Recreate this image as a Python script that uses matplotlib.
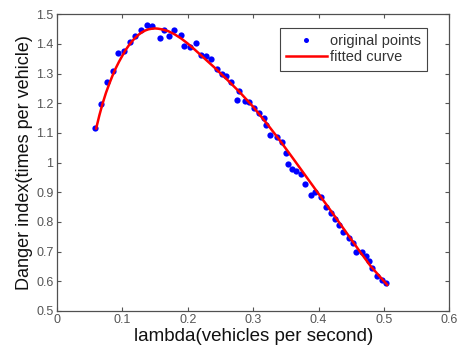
import matplotlib
matplotlib.use("Agg")
import matplotlib.pyplot as plt
from matplotlib.ticker import FuncFormatter

plt.rcParams['font.family'] = ['Liberation Sans', 'DejaVu Sans']

# original measured points
lam = [0.058, 0.067, 0.076, 0.085, 0.094, 0.103, 0.112, 0.120, 0.129, 0.137,
       0.146, 0.157, 0.164, 0.171, 0.179, 0.189, 0.195, 0.204, 0.212, 0.220,
       0.228, 0.235, 0.244, 0.252, 0.259, 0.266, 0.275, 0.279, 0.287, 0.294,
       0.302, 0.309, 0.316, 0.320, 0.326, 0.337, 0.344, 0.350, 0.354, 0.360,
       0.366, 0.373, 0.380, 0.388, 0.395, 0.403, 0.411, 0.419, 0.425, 0.432,
       0.438, 0.446, 0.452, 0.458, 0.466, 0.472, 0.477, 0.482, 0.490, 0.497,
       0.503]
danger = [1.118, 1.196, 1.270, 1.309, 1.369, 1.376, 1.407, 1.427, 1.446, 1.464,
          1.459, 1.420, 1.446, 1.425, 1.446, 1.429, 1.392, 1.390, 1.403, 1.364,
          1.360, 1.348, 1.314, 1.300, 1.291, 1.272, 1.210, 1.242, 1.207, 1.205,
          1.185, 1.168, 1.150, 1.126, 1.093, 1.087, 1.070, 1.031, 0.995, 0.977,
          0.970, 0.960, 0.927, 0.891, 0.902, 0.883, 0.852, 0.829, 0.809, 0.790,
          0.767, 0.745, 0.730, 0.700, 0.700, 0.685, 0.669, 0.644, 0.618, 0.604,
          0.593]

# fitted curve
fit_x = [0.060, 0.065, 0.070, 0.075, 0.080, 0.085, 0.090, 0.095, 0.100, 0.105,
         0.110, 0.115, 0.120, 0.125, 0.130, 0.135, 0.140, 0.145, 0.150, 0.155,
         0.160, 0.170, 0.180, 0.190, 0.200, 0.210, 0.220, 0.240, 0.260, 0.280,
         0.300, 0.320, 0.340, 0.360, 0.380, 0.400, 0.420, 0.440, 0.460, 0.480,
         0.505]
fit_y = [1.115, 1.160, 1.200, 1.235, 1.265, 1.293, 1.318, 1.340, 1.360, 1.379,
         1.395, 1.409, 1.421, 1.431, 1.439, 1.445, 1.449, 1.451, 1.452, 1.451,
         1.449, 1.443, 1.432, 1.418, 1.401, 1.382, 1.362, 1.322, 1.280, 1.236,
         1.188, 1.134, 1.077, 1.017, 0.956, 0.895, 0.834, 0.772, 0.710, 0.650,
         0.588]

fig = plt.figure(figsize=(4.59, 3.54), dpi=100)
ax = fig.add_axes([0.124, 0.1215, 0.855, 0.8385])

ax.plot(lam, danger, 'o', color='#0000ff', markersize=4.5, markeredgewidth=0,
        label='original points')
ax.plot(fit_x, fit_y, '-', color='#ff0000', linewidth=1.8, label='fitted curve')

ax.set_xlim(0, 0.6)
ax.set_ylim(0.5, 1.5)
ax.set_xticks([0, 0.1, 0.2, 0.3, 0.4, 0.5, 0.6])
ax.set_yticks([0.5, 0.6, 0.7, 0.8, 0.9, 1.0, 1.1, 1.2, 1.3, 1.4, 1.5])
ax.xaxis.set_major_formatter(FuncFormatter(lambda v, p: '%g' % round(v, 2)))
ax.yaxis.set_major_formatter(FuncFormatter(lambda v, p: '%g' % round(v, 2)))
ax.tick_params(direction='in', top=True, right=True, labelsize=9,
               colors='#555555', length=3, pad=2.5)
for s in ax.spines.values():
    s.set_color('#505050')
    s.set_linewidth(0.9)

ax.set_xlabel('lambda(vehicles per second)', fontsize=13.5, color='#111111', labelpad=1)
ax.set_ylabel('Danger index(times per vehicle)', fontsize=13, color='#111111', labelpad=2)

leg = ax.legend(loc='upper right', bbox_to_anchor=(0.944, 0.955), fontsize=10.5,
                fancybox=False, framealpha=1, edgecolor='#444444',
                handlelength=2.8, handletextpad=0.2, borderpad=0.45,
                labelspacing=0.15, numpoints=1, markerscale=0.8,
                borderaxespad=0)
leg.get_frame().set_linewidth(0.8)
for t in leg.get_texts():
    t.set_color('#333333')

fig.savefig('out.png', dpi=100)
